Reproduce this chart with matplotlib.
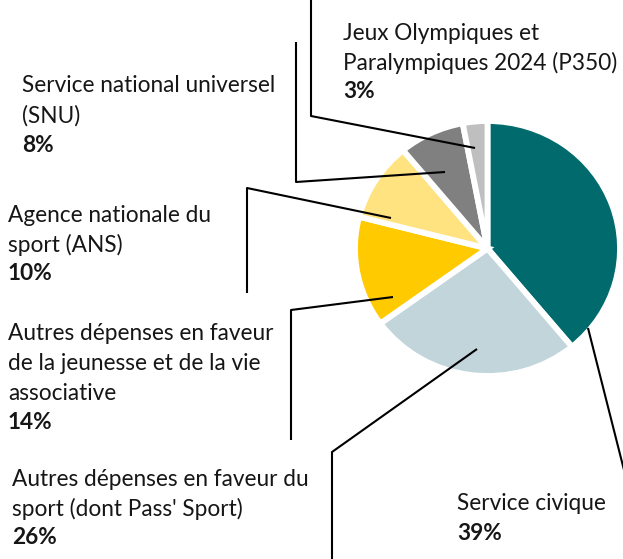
import matplotlib.pyplot as plt

# Budget split (percent)
labels = [
    "Service civique",
    "Autres dépenses en faveur du\nsport (dont Pass' Sport)",
    "Autres dépenses en faveur\nde la jeunesse et de la vie\nassociative",
    "Agence nationale du\nsport (ANS)",
    "Service national universel\n(SNU)",
    "Jeux Olympiques et\nParalympiques 2024 (P350)",
]
shares = [39, 26, 14, 10, 8, 3]
colors = ["#006A6C", "#C1D5DB", "#FFCA00", "#FFE380", "#808080", "#BFBFBF"]

# label block position (left x, first line y) and leader path, in pixels
label_pos = [(457, 504), (12, 479), (8, 334), (8, 215), (22, 86), (343, 33)]
leaders = [
    [(588, 328), (624, 470)],
    [(477, 349), (332, 452), (332, 560)],
    [(393, 297), (291, 310), (291, 440)],
    [(391, 218), (247, 188), (247, 293)],
    [(445, 172), (296, 182), (296, 42)],
    [(475, 148), (311, 116), (311, -2)],
]

W, H = 623, 559
plt.rcParams['font.family'] = ['Lato', 'DejaVu Sans']

fig = plt.figure(figsize=(W / 100, H / 100), dpi=100)

# pie box in pixels (left, top, right, bottom)
px0, py0, px1, py1 = 355, 121, 620, 376
ax_pie = fig.add_axes([px0 / W, 1 - py1 / H, (px1 - px0) / W, (py1 - py0) / H])
ax_pie.pie(shares, colors=colors, startangle=90, counterclock=False,
           radius=1, wedgeprops={'edgecolor': 'white', 'linewidth': 4.2})
ax_pie.set_aspect('auto')
ax_pie.set_xlim(-1, 1)
ax_pie.set_ylim(-1, 1)
ax_pie.axis('off')

# overlay in pixel coordinates for leaders and labels
ax = fig.add_axes([0, 0, 1, 1])
ax.patch.set_visible(False)

for path in leaders:
    xs, ys = zip(*path)
    ax.plot(xs, ys, color='black', linewidth=1.5, solid_capstyle='butt')

line_h = 29.5
for label, share, (x, y) in zip(labels, shares, label_pos):
    lines = label.split("\n")
    for i, line in enumerate(lines):
        ax.text(x, y + i * line_h, line, fontsize=16.3, color='#161616',
                va='center', ha='left')
    ax.text(x, y + len(lines) * line_h, f"{share}%", fontsize=16.3,
            fontweight='bold', color='#161616', va='center', ha='left')

ax.set_xlim(0, W)
ax.set_ylim(H, 0)
ax.axis('off')

fig.savefig("out.png", dpi=100)
